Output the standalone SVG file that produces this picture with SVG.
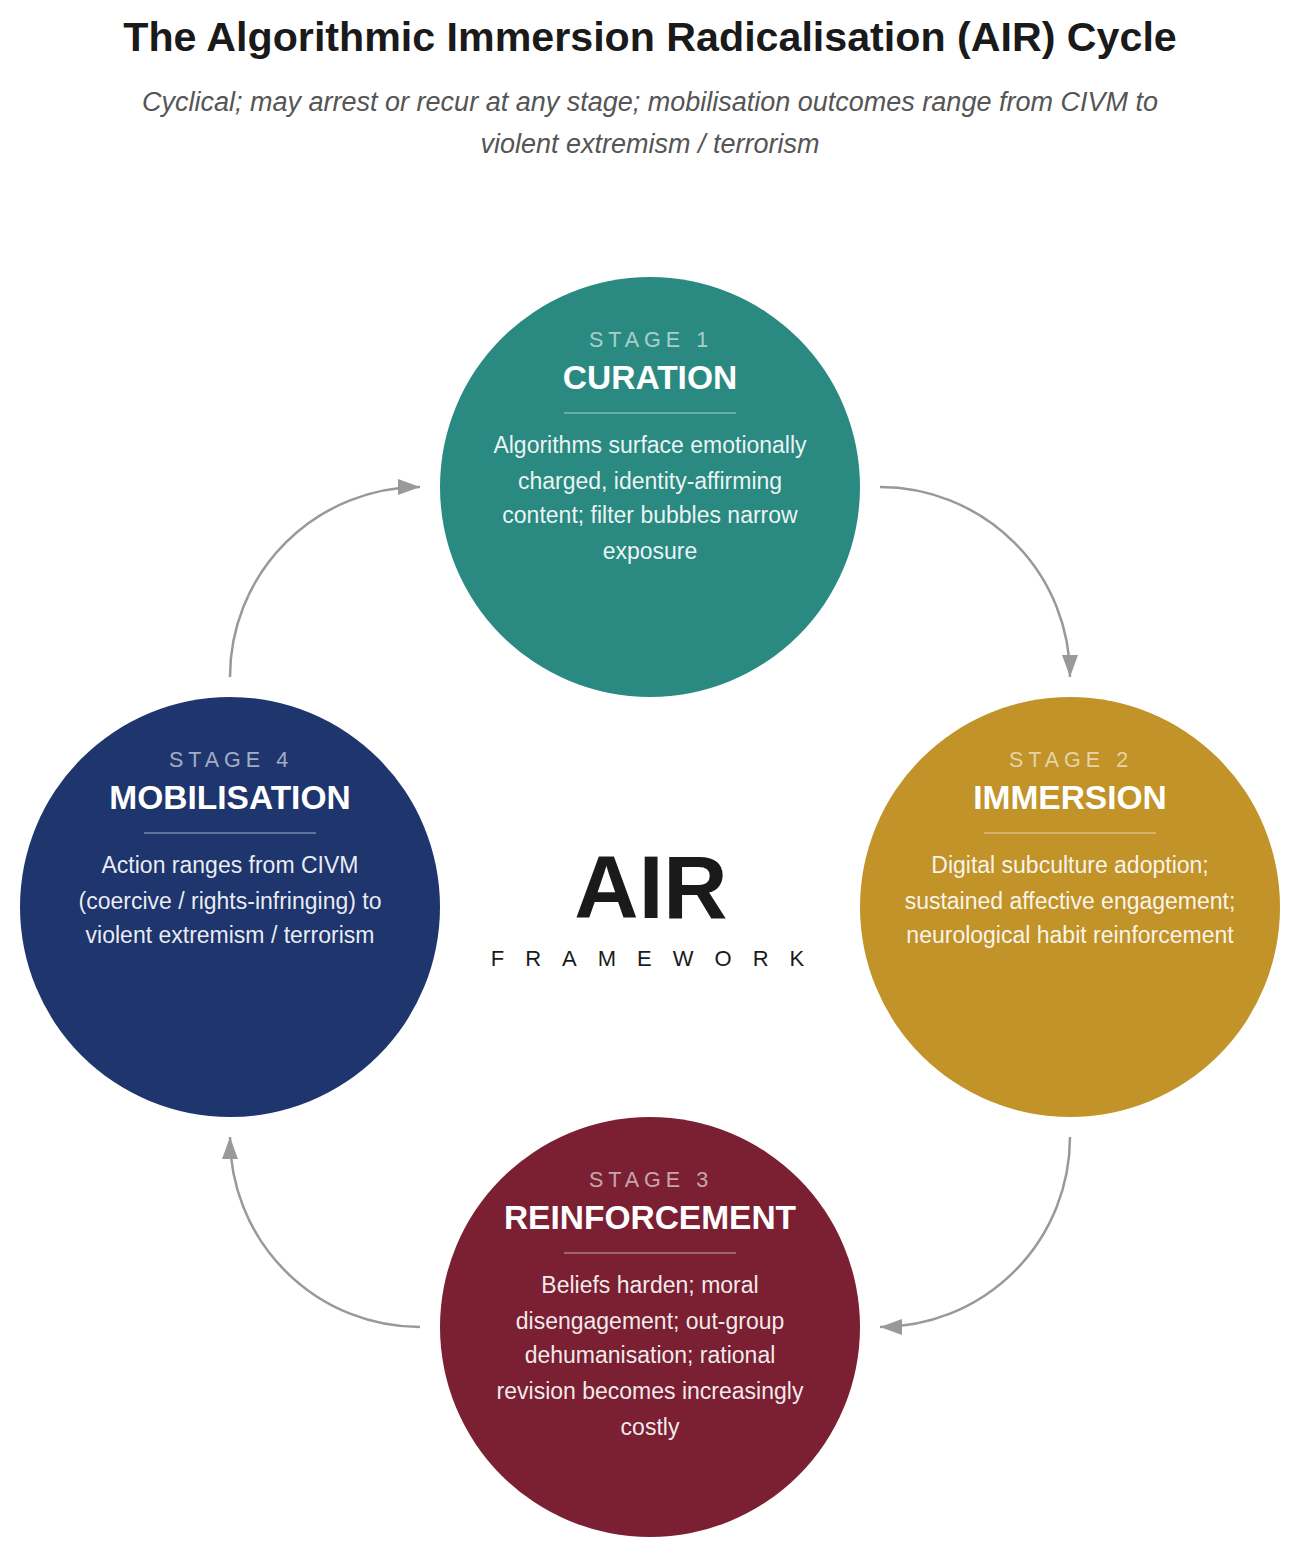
<svg xmlns="http://www.w3.org/2000/svg" width="1300" height="1557" viewBox="0 0 1300 1557">
<style>
.title{font-family:"Liberation Sans",Arial,sans-serif;font-weight:bold;font-size:41.2px;fill:#1a1a1a;text-anchor:middle}
.sub{font-family:"Liberation Sans",Arial,sans-serif;font-style:italic;font-size:27px;fill:#555;text-anchor:middle}
.stage{font-family:"Liberation Sans",Arial,sans-serif;font-size:21.5px;letter-spacing:5px;fill:#fff;fill-opacity:0.6;text-anchor:middle}
.name{font-family:"Liberation Sans",Arial,sans-serif;font-weight:bold;font-size:33.5px;fill:#fff;text-anchor:middle}
.body{font-family:"Liberation Sans",Arial,sans-serif;font-size:23px;fill:#fff;fill-opacity:0.92;text-anchor:middle}
.rule{stroke:#fff;stroke-opacity:0.4;stroke-width:1.5}
.conn{fill:none;stroke:#999;stroke-width:2.5}
.air{font-family:"Liberation Sans",Arial,sans-serif;font-weight:bold;font-size:89px;fill:#1a1a1a;text-anchor:middle}
.fw{font-family:"Liberation Sans",Arial,sans-serif;font-size:22px;letter-spacing:21px;fill:#1a1a1a;text-anchor:middle}
</style>
<defs>
<marker id="ah" viewBox="0 0 22 16" refX="22" refY="8" markerWidth="22" markerHeight="16" markerUnits="userSpaceOnUse" orient="auto">
<path d="M0,0 L22,8 L0,16 Z" fill="#999"/>
</marker>
</defs>
<rect width="1300" height="1557" fill="#fff"/>
<text class="title" x="650" y="51">The Algorithmic Immersion Radicalisation (AIR) Cycle</text>
<text class="sub" x="650" y="111">Cyclical; may arrest or recur at any stage; mobilisation outcomes range from CIVM to</text>
<text class="sub" x="650" y="153">violent extremism / terrorism</text>

<g id="connectors">
<path class="conn" marker-end="url(#ah)" d="M880,487 A190,190 0 0 1 1070,677"/>
<path class="conn" marker-end="url(#ah)" d="M1070,1137 A190,190 0 0 1 880,1327"/>
<path class="conn" marker-end="url(#ah)" d="M420,1327 A190,190 0 0 1 230,1137"/>
<path class="conn" marker-end="url(#ah)" d="M230,677 A190,190 0 0 1 420,487"/>
</g>

<g id="stage1">
<circle cx="650" cy="487" r="210" fill="#2a8a82"/>
<text class="stage" x="651" y="347">STAGE 1</text>
<text class="name" x="650" y="389">CURATION</text>
<line class="rule" x1="564" y1="413" x2="736" y2="413"/>
<text class="body" x="650" y="453">Algorithms surface emotionally</text>
<text class="body" x="650" y="489">charged, identity-affirming</text>
<text class="body" x="650" y="523">content; filter bubbles narrow</text>
<text class="body" x="650" y="559">exposure</text>
</g>

<g id="stage2">
<circle cx="1070" cy="907" r="210" fill="#c29328"/>
<text class="stage" x="1071" y="767">STAGE 2</text>
<text class="name" x="1070" y="809">IMMERSION</text>
<line class="rule" x1="984" y1="833" x2="1156" y2="833"/>
<text class="body" x="1070" y="873">Digital subculture adoption;</text>
<text class="body" x="1070" y="909">sustained affective engagement;</text>
<text class="body" x="1070" y="943">neurological habit reinforcement</text>
</g>

<g id="stage3">
<circle cx="650" cy="1327" r="210" fill="#7b2033"/>
<text class="stage" x="651" y="1187">STAGE 3</text>
<text class="name" x="650" y="1229">REINFORCEMENT</text>
<line class="rule" x1="564" y1="1253" x2="736" y2="1253"/>
<text class="body" x="650" y="1293">Beliefs harden; moral</text>
<text class="body" x="650" y="1329">disengagement; out-group</text>
<text class="body" x="650" y="1363">dehumanisation; rational</text>
<text class="body" x="650" y="1399">revision becomes increasingly</text>
<text class="body" x="650" y="1435">costly</text>
</g>

<g id="stage4">
<circle cx="230" cy="907" r="210" fill="#1e356e"/>
<text class="stage" x="231" y="767">STAGE 4</text>
<text class="name" x="230" y="809">MOBILISATION</text>
<line class="rule" x1="144" y1="833" x2="316" y2="833"/>
<text class="body" x="230" y="873">Action ranges from CIVM</text>
<text class="body" x="230" y="909">(coercive / rights-infringing) to</text>
<text class="body" x="230" y="943">violent extremism / terrorism</text>
</g>

<g id="center">
<text class="air" x="651" y="918">AIR</text>
<text class="fw" x="658" y="966">FRAMEWORK</text>
</g>
</svg>
